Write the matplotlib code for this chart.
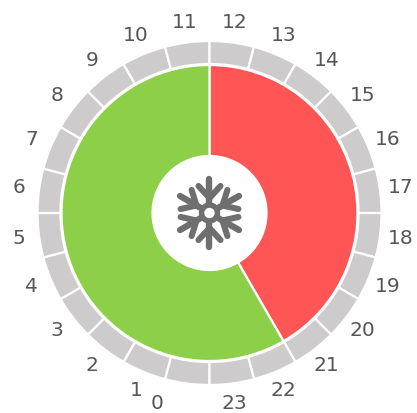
import numpy as np
import matplotlib
matplotlib.use("Agg")
import matplotlib.pyplot as plt
from matplotlib.patches import Circle

# horas del anillo exterior, en sentido horario desde abajo
horas = list(range(24))
anillo = [1] * 24

# estado frio/calor, en sentido horario desde arriba
estados = [10, 14]
colores_estado = ["#ff5555", "#8dcf48"]

CX, CY = 209.5, 200  # centro en coordenadas del eje (y hacia arriba)
R_ANILLO = 172
R_PIE = 148
R_HUECO = 57
R_TEXTO = 192.5
GRIS = "#cdcbcc"
GRIS_ICONO = "#6f6f6f"
GRIS_TEXTO = "#565656"

fig = plt.figure(figsize=(4.17, 4.13), dpi=100)
ax = fig.add_axes([0, 0, 1, 1])

ax.pie(anillo, radius=R_ANILLO, center=(CX, CY), startangle=-90, counterclock=False,
       colors=[GRIS] * 24, frame=True,
       wedgeprops={"width": R_ANILLO - R_PIE - 1, "edgecolor": "white", "linewidth": 1.6})
ax.pie(estados, radius=R_PIE, center=(CX, CY), startangle=90, counterclock=False,
       colors=colores_estado, frame=True,
       wedgeprops={"width": R_PIE - R_HUECO, "edgecolor": "white", "linewidth": 1.6})

# etiquetas de hora
for h in horas:
    ang = np.radians(h * 15 + 7.5)
    x = CX - R_TEXTO * np.sin(ang)
    y = CY - R_TEXTO * np.cos(ang)
    if h == 0:
        x -= 27  # el 0 esta desplazado en el original
    ax.text(x, y, str(h), ha="center", va="center", fontsize=14.5, color=GRIS_TEXTO,
            family="DejaVu Sans")

# copo de nieve
ce = np.array([CX, CY])
for k in range(6):
    a = np.radians(k * 60)
    d = np.array([np.sin(a), np.cos(a)])
    n = np.array([d[1], -d[0]])
    p0 = ce + d * 6
    p1 = ce + d * 34
    ax.plot([p0[0], p1[0]], [p0[1], p1[1]], color=GRIS_ICONO, lw=4.6, solid_capstyle="round")
    base = ce + d * 15
    for s in (-1, 1):
        p2 = base + d * 12 + n * s * 11
        ax.plot([base[0], p2[0]], [base[1], p2[1]], color=GRIS_ICONO, lw=4.4, solid_capstyle="round")
ax.add_patch(Circle(ce, 10, color=GRIS_ICONO, zorder=5))
ax.add_patch(Circle(ce, 4.5, color="white", zorder=6))

ax.set_xlim(0, 417)
ax.set_ylim(0, 413)
ax.set_aspect("equal")
ax.axis("off")

fig.savefig("out.png", dpi=100, facecolor="white")
